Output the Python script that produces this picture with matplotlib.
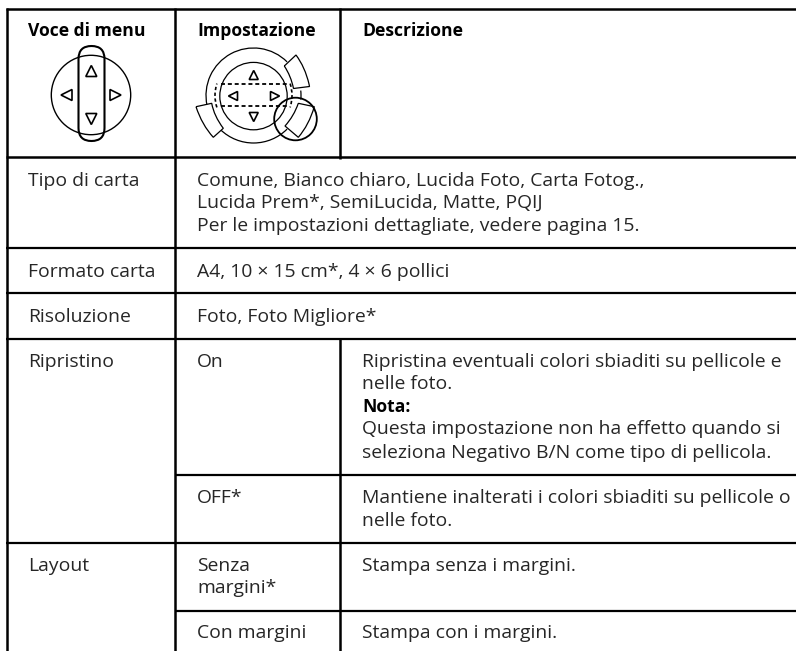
import matplotlib
matplotlib.use("Agg")
from matplotlib import pyplot as plt
from matplotlib.patches import Arc, Circle, FancyBboxPatch, Polygon, PathPatch
from matplotlib.path import Path

# table text
headers = ["Voce di menu", "Impostazione", "Descrizione"]
menu_items = ["Tipo di carta", "Formato carta", "Risoluzione", "Ripristino", "Layout"]
paper_types = ["Comune, Bianco chiaro, Lucida Foto, Carta Fotog.,",
               "Lucida Prem*, SemiLucida, Matte, PQIJ",
               "Per le impostazioni dettagliate, vedere pagina 15."]
paper_sizes = ["A4, 10 \u00d7 15 cm*, 4 \u00d7 6 pollici"]
resolutions = ["Foto, Foto Migliore*"]
settings = ["On", "OFF*", "Senza\nmargini*", "Con margini"]
desc_on = ["Ripristina eventuali colori sbiaditi su pellicole e", "nelle foto."]
desc_note_title = "Nota:"
desc_note = ["Questa impostazione non ha effetto quando si",
             "seleziona Negativo B/N come tipo di pellicola."]
desc_off = ["Mantiene inalterati i colori sbiaditi su pellicole o", "nelle foto."]
desc_with = "Stampa senza i margini."
desc_without = "Stampa con i margini."

FONT = "Open Sans"
SIZE = 13.95
BOLD_SIZE = 12.6
INK = "#262626"

fig = plt.figure(figsize=(7.96, 6.51), dpi=100)
ax = fig.add_axes([0, 0, 1, 1])
ax.set_xlim(0, 796)
ax.set_ylim(651, 0)
ax.axis("off")

X0, X1, X2, XR = 7, 175, 340, 796
YB = 651


def line(xs, ys, lw=1.6):
    ax.plot(xs, ys, color="black", lw=lw, solid_capstyle="butt", zorder=3)


def put(x, y, s, bold=False):
    ax.text(x, y, s, family=FONT, fontsize=BOLD_SIZE if bold else SIZE, color="black" if bold else INK,
            va="baseline", ha="left", fontweight="bold" if bold else "normal", zorder=4)


def tri(cx, cy, d, r=5.5):
    # little arrow on the dial, d is the direction it points to
    dx, dy = d
    px, py = -dy, dx
    pts = [(cx + dx * r, cy + dy * r),
           (cx - dx * r + px * r, cy - dy * r + py * r),
           (cx - dx * r - px * r, cy - dy * r - py * r)]
    ax.add_patch(Polygon(pts, closed=True, fc="white", ec="black", lw=1.2, zorder=4))


# grid
line([X0, X0], [8, YB], 1.8)
line([X1, X1], [8, YB], 1.8)
line([X2, X2], [8, 158.5], 1.8)
line([X2, X2], [338, YB], 1.8)
line([X0 - 1, XR], [9.2, 9.2], 1.8)
line([X0 - 1, XR], [156.7, 156.7], 1.8)
for y in [248, 292.8, 338.6, 543.2]:
    line([X0 - 1, XR], [y, y], 1.6)
for y in [475, 610.8]:
    line([X1, XR], [y, y], 1.6)

# headers
put(28.5, 36.5, headers[0], True)
put(197, 36.5, headers[1], True)
put(362, 36.5, headers[2], True)

# first column
put(28.5, 186, menu_items[0])
put(28.5, 276.7, menu_items[1])
put(28.5, 321.7, menu_items[2])
put(28.5, 366.7, menu_items[3])
put(28.5, 571, menu_items[4])

# second column
for i, s in enumerate(paper_types):
    put(197, [186, 208, 231][i], s)
put(197, 276.7, paper_sizes[0])
put(197, 321.7, resolutions[0])
put(197, 366.7, settings[0])
put(197, 503, settings[1])
senza, margini = settings[2].split("\n")
put(197, 571, senza)
put(197, 593, margini)
put(197, 638, settings[3])

# third column
put(362, 366.7, desc_on[0])
put(362, 389, desc_on[1])
put(362, 412, desc_note_title, True)
put(362, 434.5, desc_note[0])
put(362, 458, desc_note[1])
put(362, 503, desc_off[0])
put(362, 526, desc_off[1])
put(362, 571, desc_with)
put(362, 638, desc_without)

# left dial
ax.add_patch(Circle((91, 95), 39.7, fc="none", ec="black", lw=1.0, zorder=3))
ax.add_patch(FancyBboxPatch((78.5 + 13, 46 + 13), 0.0, 69, boxstyle="round,pad=13,rounding_size=13",
                            fc="none", ec="black", lw=1.5, zorder=4, mutation_aspect=1))
tri(91.3, 71, (0, -1))
tri(91.3, 119, (0, 1))
tri(66.5, 95, (-1, 0))
tri(115.5, 95, (1, 0))

# right dial
cx, cy = 253.5, 95.5
for t1, t2 in [(-192, -45), (-315, -226), (-6, 5)]:
    ax.add_patch(Arc((cx, cy), 95, 95, theta1=t1, theta2=t2, ec="black", lw=0.9, zorder=3))
ax.add_patch(Circle((cx, cy + 0.6), 33.7, fc="none", ec="black", lw=0.9, zorder=3))
ax.plot([221, 287], [84.3, 84.3], color="black", lw=1.3, ls=(0, (2.2, 1.6)), zorder=4)
ax.plot([221, 287], [106, 106], color="black", lw=1.3, ls=(0, (2.2, 1.6)), zorder=4)
ax.add_patch(Arc((cx, cy), 77, 77, theta1=-198, theta2=-162, ec="black", lw=1.2, ls=(0, (2, 1.5)), zorder=4))
ax.add_patch(Arc((cx, cy), 77, 77, theta1=-18, theta2=18, ec="black", lw=1.2, ls=(0, (2, 1.5)), zorder=4))
tri(253.7, 75, (0, -1), 4.5)
tri(253.7, 117, (0, 1), 4.5)
tri(233, 96, (-1, 0), 4.5)
tri(275, 96, (1, 0), 4.5)

# the three buttons, curved outer and inner side
buttons = [
    [(284.3, 66), (296, 55), (305, 67), (309, 84), (309.5, 86.5), (293.5, 88.5), (291, 76), (284.3, 66)],
    [(196, 106.7), (211.7, 103.3), (214, 116), (223.3, 128.3), (213.3, 137.3), (202, 125), (196, 106.7)],
    [(298.3, 103.3), (314.3, 106.7), (309, 125), (298.3, 137.3), (285, 126), (294, 116), (298.3, 103.3)],
]
codes_list = [
    [Path.MOVETO, Path.LINETO, Path.CURVE3, Path.CURVE3, Path.LINETO, Path.LINETO, Path.CURVE3, Path.CURVE3],
    [Path.MOVETO, Path.LINETO, Path.CURVE3, Path.CURVE3, Path.LINETO, Path.CURVE3, Path.CURVE3],
    [Path.MOVETO, Path.LINETO, Path.CURVE3, Path.CURVE3, Path.LINETO, Path.CURVE3, Path.CURVE3],
]
for b, c in zip(buttons, codes_list):
    ax.add_patch(PathPatch(Path(b, c), fc="white", ec="black", lw=0.9, zorder=5))
ax.add_patch(Circle((295.5, 119), 21.3, fc="none", ec="black", lw=1.3, zorder=6))

fig.savefig("out.png", dpi=100)
